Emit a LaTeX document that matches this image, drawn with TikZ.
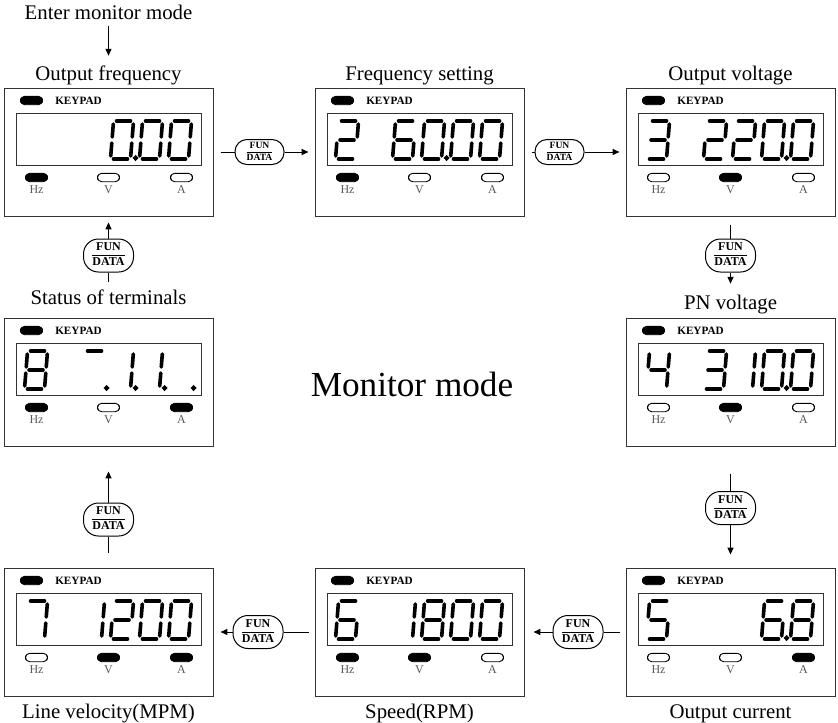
\documentclass[tikz,border=0pt]{standalone}
\usepackage{fontspec}
\setmainfont{Liberation Serif}
\usetikzlibrary{positioning,arrows.meta}
\definecolor{ledgrey}{gray}{0.35}
\tikzset{
  lbl/.style={font=\fontsize{10.4}{12}\selectfont,inner sep=0pt,text height=7.3pt,text depth=2.2pt},
  panel/.style={draw=black!80,line width=0.5pt,minimum width=104.5pt,minimum height=64pt,inner sep=0pt},
  lcdwin/.style={draw=black!80,line width=0.5pt,minimum width=92.5pt,minimum height=26pt,inner sep=0pt},
  led/.style={draw,line width=0.45pt,fill=#1,rounded corners=2.1pt,minimum width=11pt,
              minimum height=4.2pt,inner sep=0pt},
  kptxt/.style={font=\bfseries\fontsize{5.6}{6}\selectfont,inner sep=0pt},
  ledtxt/.style={font=\fontsize{6}{7}\selectfont,text=ledgrey,inner sep=0pt},
  seg/.style={line width=1.8pt,line cap=round},
  fk/.style={draw,line width=0.5pt,rounded corners=6pt,minimum width=24.5pt,minimum height=12.5pt,
             inner sep=0pt,font=\bfseries\fontsize{4.8}{5.6}\selectfont},
  fkl/.style={fk,rounded corners=7.5pt,minimum width=25pt,minimum height=16.5pt,
              font=\bfseries\fontsize{6}{7}\selectfont},
  cn/.style={line width=0.5pt},
  ar/.style={-{Triangle[length=3.4pt,width=3pt]},line width=0.5pt},
}
% seven segments, local units, origin at bottom left
\newcommand\sga{(3,-38)--(17,-38)}
\newcommand\sgb{(20,-35)--(20,-22)}
\newcommand\sgc{(20,-16)--(20,-3)}
\newcommand\sgd{(3,0)--(17,0)}
\newcommand\sge{(0,-3)--(0,-16)}
\newcommand\sgf{(0,-22)--(0,-35)}
\newcommand\sgg{(3,-19)--(17,-19)}
\newcommand\sgp{(25,-1) circle[radius=0.25pt]}
\newcommand\segrun[1]{\ifx#1\relax\else\draw[seg]\csname sg#1\endcsname;\expandafter\segrun\fi}
\newcommand\dg[2]{\begin{scope}[shift={(#1,71.5)},xslant=0.08]\segrun#2\relax\end{scope}}
\newcommand\fd{\begin{tabular}{@{}c@{}}FUN\\\hline DATA\end{tabular}}
\newcommand\keypad[5]{%
  \begin{scope}[shift={(#1.north west)}]
    \node[led=black] (#1-kled) at (28,13) {};
    \node[kptxt] (#1-kp) at (75,13) {KEYPAD};
    \node[lcdwin] (#1-win) at (105,51.5) {};
    \node[led=#2] (#1-hz) at (33,90) {};
    \node[led=#3] (#1-v) at (105,90) {};
    \node[led=#4] (#1-a) at (178,90) {};
    \node[ledtxt] (#1-hzt) at (33,102) {Hz};
    \node[ledtxt] (#1-vt) at (105,102) {V};
    \node[ledtxt] (#1-at) at (178,102) {A};
    #5
  \end{scope}}

\begin{document}
\begin{tikzpicture}[x=0.5pt,y=-0.5pt,
  big/.style={font=\fontsize{17.6}{20}\selectfont,inner sep=0pt}]
\useasboundingbox (0,0) rectangle (838,722);

\node[panel] (p1) at (108.5,152) {};
\node[panel,right=50.5pt of p1] (p2) {};
\node[panel,right=50.5pt of p2] (p3) {};
\node[panel,below=50.5pt of p3] (p4) {};
\node[panel,below=60.5pt of p4] (p5) {};
\node[panel,left=50.5pt of p5] (p6) {};
\node[panel,left=50.5pt of p6] (p7) {};
\node[panel,above=60.5pt of p7] (p8) {};

\node[lbl,above=1.3pt of p1] (t1) {Output frequency};
\node[lbl,above=1.3pt of p2] (t2) {Frequency setting};
\node[lbl,above=1.3pt of p3] (t3) {Output voltage};
\node[lbl,above=1.8pt of p4] (t4) {PN voltage};
\node[lbl,below=3.5pt of p5] (t5) {Output current};
\node[lbl,below=3.5pt of p6] (t6) {Speed(RPM)};
\node[lbl,below=3.5pt of p7] (t7) {Line velocity(MPM)};
\node[lbl,above=4.3pt of p8] (t8) {Status of terminals};
\node[lbl,above=20.5pt of t1] (enter) {Enter monitor mode};
\node[big] (mm) at (412,384) {Monitor mode};

\keypad{p1}{black}{white}{white}{\dg{107}{abcdefp}\dg{136}{abcdef}\dg{165}{abcdef}}
\keypad{p2}{black}{white}{white}{\dg{21}{abged}\dg{78}{afgedc}\dg{107}{abcdefp}\dg{136}{abcdef}\dg{165}{abcdef}}
\keypad{p3}{white}{black}{white}{\dg{21}{abgcd}\dg{78}{abged}\dg{107}{abged}\dg{136}{abcdefp}\dg{165}{abcdef}}
\keypad{p4}{white}{black}{white}{\dg{21}{fgbc}\dg{78}{abgcd}\dg{107}{bc}\dg{136}{abcdefp}\dg{165}{abcdef}}
\keypad{p5}{white}{white}{black}{\dg{21}{afgcd}\dg{136}{afgedcp}\dg{165}{abcdefg}}
\keypad{p6}{black}{black}{white}{\dg{21}{afgedc}\dg{78}{bc}\dg{107}{abcdefg}\dg{136}{abcdef}\dg{165}{abcdef}}
\keypad{p7}{white}{black}{black}{\dg{21}{abc}\dg{78}{bc}\dg{107}{abged}\dg{136}{abcdef}\dg{165}{abcdef}}
\keypad{p8}{black}{white}{black}{\dg{21}{abcdefg}\dg{78}{ap}\dg{107}{bcp}\dg{136}{bcp}\dg{165}{p}}

\node[fk,right=10.5pt of p1] (k1) {\fd};
\node[fk,right=5pt of p2] (k2) {\fd};
\node[fkl,below=11pt of p3] (k3) {\fd};
\node[fkl,below=22.25pt of p4] (k4) {\fd};
\node[fkl,left=11pt of p5] (k5) {\fd};
\node[fkl,left=15.5pt of p6] (k6) {\fd};
\node[fkl,above=15.5pt of p7] (k7) {\fd};
\node[fkl,below=11pt of p1] (k8) {\fd};

\draw[cn,shorten <=3.5pt] (p1) -- (k1);
\draw[ar,shorten >=3pt] (k1) -- (p2);
\draw[cn,shorten <=3.5pt] (p2) -- (k2);
\draw[ar,shorten >=3pt] (k2) -- (p3);
\draw[cn,shorten <=4pt] (p3) -- (k3);
\draw[ar,shorten >=5.2pt] (k3) -- (t4);
\draw[cn,shorten <=13.5pt] (p4) -- (k4);
\draw[ar,shorten >=6.5pt] (k4) -- (p5);
\draw[cn,shorten <=3pt] (p5) -- (k5);
\draw[ar,shorten >=4.5pt] (k5) -- (p6);
\draw[cn,shorten <=3pt] (p6) -- (k6);
\draw[ar,shorten >=3.5pt] (k6) -- (p7);
\draw[cn,shorten <=7.5pt] (p7) -- (k7);
\draw[ar,shorten >=12.5pt] (k7) -- (p8);
\draw[cn,shorten <=3.7pt] (t8) -- (k8);
\draw[ar,shorten >=3pt] (k8) -- (p1);
\draw[ar,shorten <=0.8pt,shorten >=4.7pt] (enter) -- (t1);

\end{tikzpicture}
\end{document}
